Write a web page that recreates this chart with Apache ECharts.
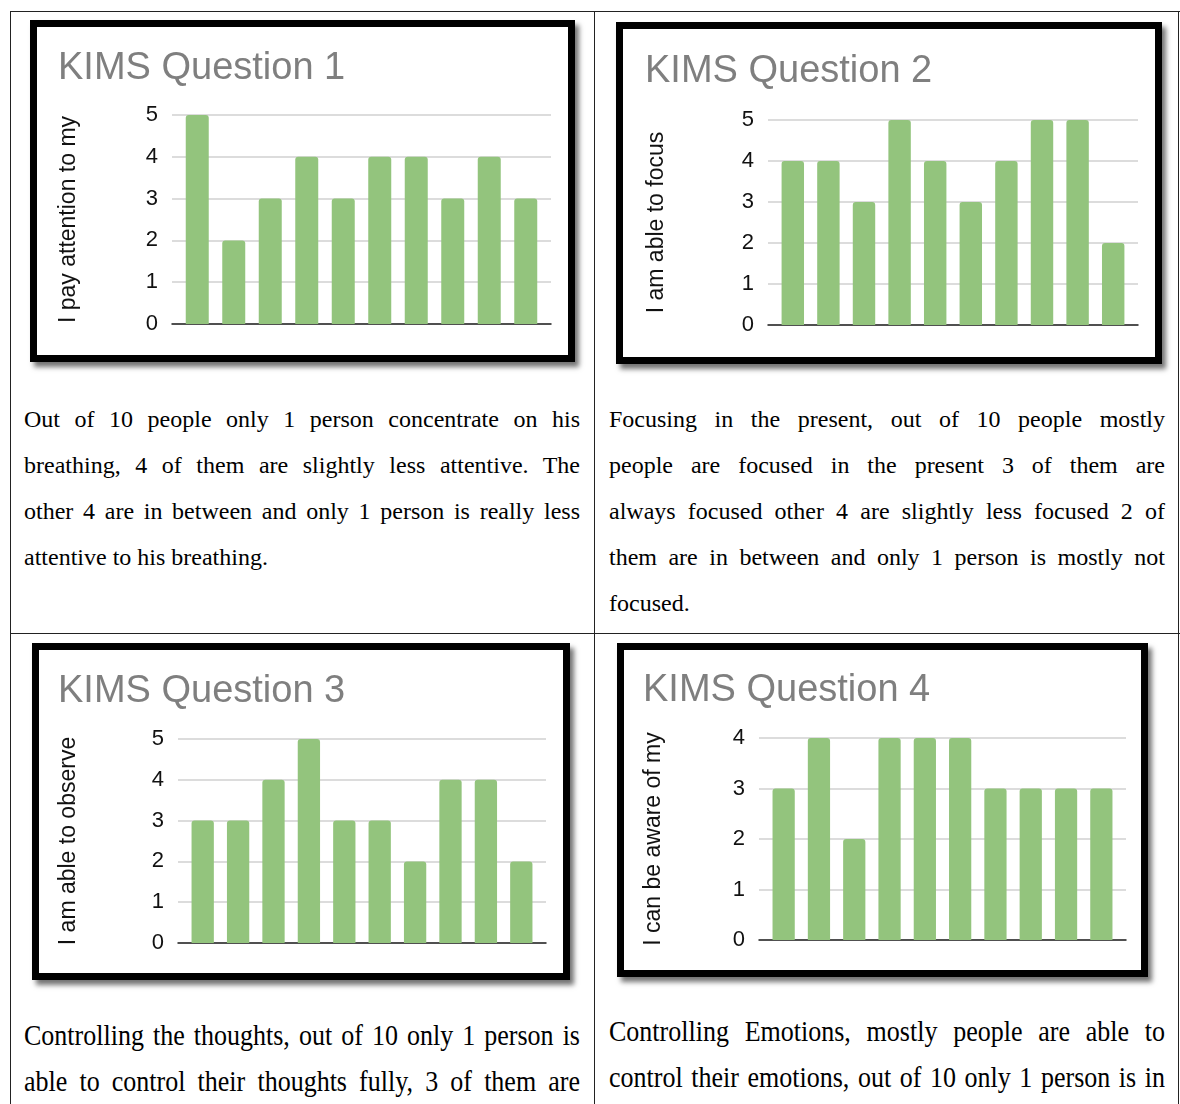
<!DOCTYPE html>
<html>
<head>
<meta charset="utf-8">
<script src="https://cdn.jsdelivr.net/npm/echarts@6/dist/echarts.min.js"></script>
<style>
  html, body { margin: 0; padding: 0; background: #fff; }
  body { width: 1180px; height: 1104px; position: relative; overflow: hidden; }
  .line { position: absolute; background: #222; }
  .box { position: absolute; border: 7px solid #000; background: #fff;
         box-shadow: 4px 5px 5px rgba(0,0,0,0.55); }
  .chart { position: absolute; left: 0; top: 0; width: 100%; height: 100%; }
  .txt { position: absolute; font-family: "Liberation Serif", "Times New Roman", serif;
         font-size: 24px; color: #000; white-space: nowrap; }
  .txt div { height: 46px; line-height: 46px; text-align: justify; text-align-last: justify; }
  .txt div.last { text-align-last: left; }
  .txt.tall { font-size: 26px; }
  .txt.tall div { transform: scaleY(1.15); }
</style>
</head>
<body>
<!-- table rules -->
<div class="line" style="left:10px;top:11px;width:1170px;height:1px"></div>
<div class="line" style="left:10px;top:11px;width:1px;height:1093px"></div>
<div class="line" style="left:1178px;top:11px;width:1px;height:1093px"></div>
<div class="line" style="left:594px;top:11px;width:1px;height:1093px"></div>
<div class="line" style="left:10px;top:633px;width:1170px;height:1px"></div>

<div class="box" style="left:30px;top:20px;width:531px;height:328px"><div class="chart" id="c1"></div></div>
<div class="box" style="left:616px;top:22px;width:532px;height:328px"><div class="chart" id="c2"></div></div>
<div class="box" style="left:32px;top:643px;width:524px;height:323px"><div class="chart" id="c3"></div></div>
<div class="box" style="left:617px;top:643px;width:517px;height:320px"><div class="chart" id="c4"></div></div>

<div class="txt" style="left:24px;top:396px;width:556px">
  <div>Out of 10 people only 1 person concentrate on his</div>
  <div>breathing, 4 of them are slightly less attentive. The</div>
  <div>other 4 are in between and only 1 person is really less</div>
  <div class="last">attentive to his breathing.</div>
</div>
<div class="txt" style="left:609px;top:396px;width:556px">
  <div>Focusing in the present, out of 10 people mostly</div>
  <div>people are focused in the present 3 of them are</div>
  <div>always focused other 4 are slightly less focused 2 of</div>
  <div>them are in between and only 1 person is mostly not</div>
  <div class="last">focused.</div>
</div>
<div class="txt tall" style="left:24px;top:1013px;width:556px">
  <div>Controlling the thoughts, out of 10 only 1 person is</div>
  <div>able to control their thoughts fully, 3 of them are</div>
</div>
<div class="txt tall" style="left:609px;top:1009px;width:556px">
  <div>Controlling Emotions, mostly people are able to</div>
  <div>control their emotions, out of 10 only 1 person is in</div>
</div>

<script>
// respondents (x labels are not shown in the picture)
var people = ['1', '2', '3', '4', '5', '6', '7', '8', '9', '10'];

var q1Values = [5, 2, 3, 4, 3, 4, 4, 3, 4, 3];
var q2Values = [4, 4, 3, 5, 4, 3, 4, 5, 5, 2];
var q3Values = [3, 3, 4, 5, 3, 3, 2, 4, 4, 2];
var q4Values = [3, 4, 2, 4, 4, 4, 3, 3, 3, 3];

var titles = ['KIMS Question 1', 'KIMS Question 2', 'KIMS Question 3', 'KIMS Question 4'];
var axisNames = ['I pay attention to my', 'I am able to focus', 'I am able to observe', 'I can be aware of my'];
var axisMax = [5, 5, 5, 4];

var allValues = [q1Values, q2Values, q3Values, q4Values];

// plot placement inside each box (gridline extent); bars sit a little inset
var layout = [
  { el: 'c1', left: 135, right: 17, top: 88, bottom: 31, titleLeft: 21, titleTop: 23, nameGap: 92 },
  { el: 'c2', left: 145, right: 17, top: 91, bottom: 32, titleLeft: 22, titleTop: 24, nameGap: 100 },
  { el: 'c3', left: 139, right: 17, top: 89, bottom: 30, titleLeft: 19, titleTop: 23, nameGap: 98 },
  { el: 'c4', left: 135, right: 15, top: 88, bottom: 30, titleLeft: 19, titleTop: 22, nameGap: 94 }
];
var inset = 7;

var font = 'Liberation Sans, Arial, sans-serif';

layout.forEach(function (l, i) {
  var chart = echarts.init(document.getElementById(l.el));
  chart.setOption({
    animation: false,
    title: {
      text: titles[i],
      left: l.titleLeft,
      top: l.titleTop,
      padding: 0,
      textStyle: { fontFamily: font, fontSize: 38, fontWeight: 'normal', color: '#7f7f7f' }
    },
    grid: [
      { left: l.left, right: l.right, top: l.top, bottom: l.bottom },
      { left: l.left + inset, right: l.right + inset, top: l.top, bottom: l.bottom }
    ],
    xAxis: [{
      type: 'category',
      gridIndex: 0,
      data: people,
      axisLine: { lineStyle: { color: '#222', width: 1.5 } },
      axisTick: { show: false },
      axisLabel: { show: false }
    }, {
      type: 'category',
      gridIndex: 1,
      data: people,
      axisLine: { show: false },
      axisTick: { show: false },
      axisLabel: { show: false }
    }],
    yAxis: [{
      type: 'value',
      gridIndex: 0,
      min: 0,
      max: axisMax[i],
      interval: 1,
      name: axisNames[i],
      nameLocation: 'middle',
      nameGap: l.nameGap,
      nameTextStyle: { fontFamily: font, fontSize: 23, color: '#111' },
      axisLine: { show: false },
      axisTick: { show: false },
      axisLabel: { margin: 14, fontFamily: font, fontSize: 22, color: '#111' },
      splitLine: { lineStyle: { color: '#d0d0d0', width: 1.5 } }
    }, {
      type: 'value',
      gridIndex: 1,
      min: 0,
      max: axisMax[i],
      interval: 1,
      axisLine: { show: false },
      axisTick: { show: false },
      axisLabel: { show: false },
      splitLine: { show: false }
    }],
    series: [{
      type: 'bar',
      xAxisIndex: 1,
      yAxisIndex: 1,
      data: allValues[i],
      barCategoryGap: '37%',
      itemStyle: { color: '#93c47d', borderRadius: [3, 3, 0, 0] }
    }]
  });
});
</script>
</body>
</html>
